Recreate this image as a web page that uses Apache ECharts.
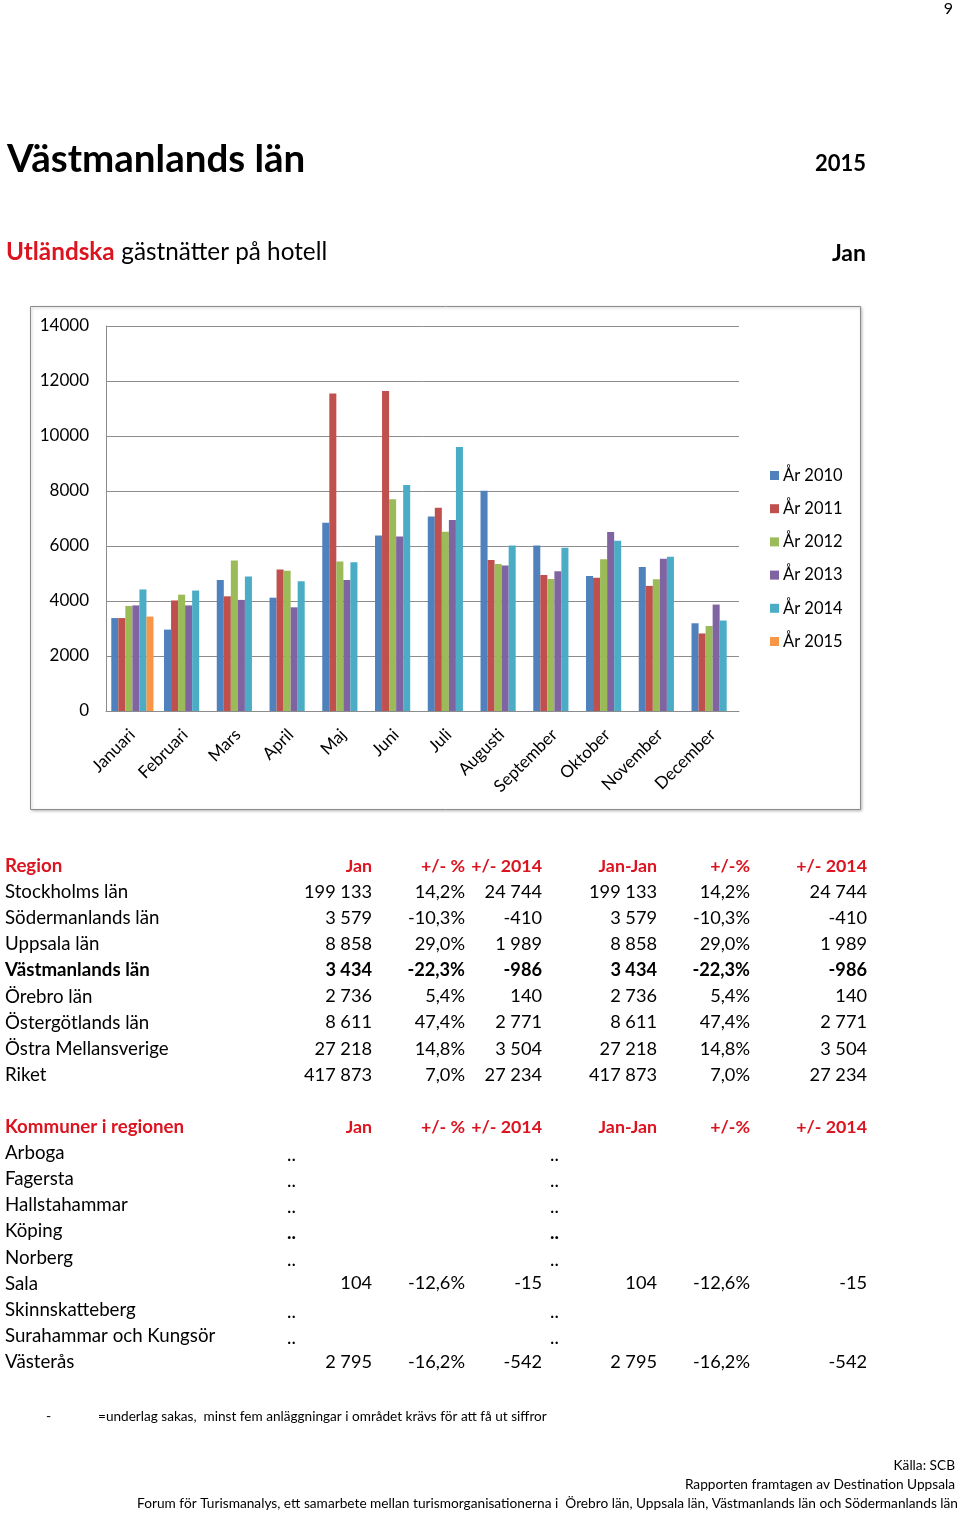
<!DOCTYPE html>
<html><head><meta charset="utf-8">
<script src="https://cdn.jsdelivr.net/npm/echarts@6/dist/echarts.min.js"></script>
<style>html,body{margin:0;padding:0;background:#fff}#c{width:960px;height:1515px}</style>
</head><body><div id="c"></div>
<script>
var months = ['Januari','Februari','Mars','April','Maj','Juni','Juli','Augusti','September','Oktober','November','December'];
var y2010 = [3380, 2960, 4760, 4120, 6850, 6380, 7070, 8010, 6020, 4910, 5240, 3190];
var y2011 = [3380, 4020, 4170, 5150, 11550, 11640, 7390, 5490, 4950, 4850, 4550, 2820];
var y2012 = [3820, 4230, 5470, 5100, 5440, 7700, 6520, 5350, 4800, 5520, 4790, 3090];
var y2013 = [3840, 3840, 4040, 3770, 4760, 6350, 6950, 5290, 5080, 6510, 5540, 3870];
var y2014 = [4420, 4380, 4890, 4720, 5410, 8220, 9600, 6020, 5940, 6190, 5610, 3290];
var y2015 = [3434, null, null, null, null, null, null, null, null, null, null, null];
var seriesNames = ['År 2010','År 2011','År 2012','År 2013','År 2014','År 2015'];
var yTicks = [0, 2000, 4000, 6000, 8000, 10000, 12000, 14000];

var regionHeader = ['Region','Jan','+/- %','+/- 2014','Jan-Jan','+/-%','+/- 2014'];
var regionNames = ['Stockholms län','Södermanlands län','Uppsala län','Västmanlands län','Örebro län','Östergötlands län','Östra Mellansverige','Riket'];
var regionJan = ['199 133','3 579','8 858','3 434','2 736','8 611','27 218','417 873'];
var regionPct = ['14,2%','-10,3%','29,0%','-22,3%','5,4%','47,4%','14,8%','7,0%'];
var regionDiff = ['24 744','-410','1 989','-986','140','2 771','3 504','27 234'];
var regionAcc = ['199 133','3 579','8 858','3 434','2 736','8 611','27 218','417 873'];
var regionAccPct = ['14,2%','-10,3%','29,0%','-22,3%','5,4%','47,4%','14,8%','7,0%'];
var regionAccDiff = ['24 744','-410','1 989','-986','140','2 771','3 504','27 234'];

var kommunHeader = ['Kommuner i regionen','Jan','+/- %','+/- 2014','Jan-Jan','+/-%','+/- 2014'];
var kommunNames = ['Arboga','Fagersta','Hallstahammar','Köping','Norberg','Sala','Skinnskatteberg','Surahammar och Kungsör','Västerås'];
var kommunJan = ['..','..','..','..','..','104','..','..','2 795'];
var kommunPct = ['','','','','','-12,6%','','','-16,2%'];
var kommunDiff = ['','','','','','-15','','','-542'];
var kommunAcc = ['..','..','..','..','..','104','..','..','2 795'];
var kommunAccPct = ['','','','','','-12,6%','','','-16,2%'];
var kommunAccDiff = ['','','','','','-15','','','-542'];

var FONT = 'Lato, "Open Sans", sans-serif';
var RED = '#DC1420';
var colors = ['#4F81BD','#C0504D','#9BBB59','#8064A2','#4BACC6','#F79646'];

var g = [];
function txt(t, x, y, opt) {
  opt = opt || {};
  g.push({type:'text', silent:true, z:10, style:{
    text:t, x:x, y:y, textAlign:opt.align||'left', textVerticalAlign:'middle',
    fontFamily:FONT, fontSize:opt.size||18.7, fontWeight:opt.weight||'normal', fill:opt.color||'#000'
  }});
}
txt('9', 953, 9, {size:16, align:'right'});
txt('Västmanlands län', 7, 160, {size:38.5, weight:'bold'});
txt('2015', 866, 164, {size:22, weight:'bold', align:'right'});
g.push({type:'text', silent:true, style:{
  text:'{r|Utländska}  {n|gästnätter på hotell}', x:6, y:252, textVerticalAlign:'middle',
  rich:{r:{fontFamily:FONT,fontSize:24.3,fontWeight:'bold',fill:RED,color:RED},
        n:{fontFamily:FONT,fontSize:24.3,fill:'#000',color:'#000'}}
}});
txt('Jan', 866, 254, {size:23, weight:'bold', align:'right'});
g.push({type:'rect', silent:true, z:0, shape:{x:30.5,y:306.5,width:830,height:503},
  style:{fill:'#fff', stroke:'#8c8c8c', lineWidth:1, shadowBlur:3, shadowColor:'rgba(0,0,0,0.25)', shadowOffsetX:1, shadowOffsetY:1}});

var colX = [5, 372, 465, 542, 657, 750, 867];
function table(header, names, cols, y0, dy, boldRow) {
  header.forEach(function(h,i){
    txt(h, colX[i], y0, {weight:'bold', color:RED, align:i===0?'left':'right', size:i===0?18.7:17.8});
  });
  names.forEach(function(n,r){
    var y = y0 + dy*(r+1);
    var w = (r===boldRow)?'bold':'normal';
    txt(n, colX[0], y, {weight:w});
    cols.forEach(function(col,ci){
      var v = col[r];
      if (!v) return;
      if (v === '..') {
        var dx = ci===0 ? 287 : 550;
        txt(v, dx, y+2, {weight:(names[r]==='Köping')?'bold':'normal'});
      } else {
        txt(v, colX[ci+1], y, {weight:w, align:'right', size:18.2});
      }
    });
  });
}
table(regionHeader, regionNames, [regionJan, regionPct, regionDiff, regionAcc, regionAccPct, regionAccDiff], 866, 26.1, 3);
table(kommunHeader, kommunNames, [kommunJan, kommunPct, kommunDiff, kommunAcc, kommunAccPct, kommunAccDiff], 1127, 26.1, -1);

txt('-', 46, 1416, {size:14});
txt('=underlag sakas,  minst fem anläggningar i området krävs för att få ut siffror', 98, 1417, {size:13.6});
txt('Källa: SCB', 955, 1466, {size:13.7, align:'right'});
txt('Rapporten framtagen av Destination Uppsala', 955, 1485, {size:13.7, align:'right'});
txt('Forum för Turismanalys, ett samarbete mellan turismorganisationerna i  Örebro län, Uppsala län, Västmanlands län och Södermanlands län', 958, 1504, {size:13.7, align:'right'});

var allData = [y2010, y2011, y2012, y2013, y2014, y2015];
var series = allData.map(function(d,i){
  return {name:seriesNames[i], type:'bar', data:d, barGap:'0%', barCategoryGap:'20%',
    itemStyle:{color:colors[i]}, z:5};
});

var chart = echarts.init(document.getElementById('c'), null, {renderer:'canvas'});
chart.setOption({
  animation:false,
  backgroundColor:'#fff',
  textStyle:{fontFamily:FONT},
  grid:{left:106, top:326, width:633, height:385, containLabel:false},
  legend:{orient:'vertical', left:765, top:462, itemWidth:9, itemHeight:9, itemGap:16.2, icon:'rect',
    data:seriesNames, textStyle:{fontFamily:FONT, fontSize:16.5, color:'#000', padding:[0,0,0,-1]}},
  xAxis:{type:'category', data:months,
    axisLine:{lineStyle:{color:'#8c8c8c'}}, axisTick:{show:false},
    axisLabel:{rotate:45, fontFamily:FONT, fontSize:17, color:'#000', margin:21, interval:0}},
  yAxis:{type:'value', min:yTicks[0], max:yTicks[yTicks.length-1], interval:2000,
    axisLine:{show:true, lineStyle:{color:'#8c8c8c'}}, axisTick:{show:false},
    splitLine:{lineStyle:{color:'#8c8c8c'}},
    axisLabel:{fontFamily:FONT, fontSize:17, color:'#000', margin:17, formatter:function(v){return String(v);}}},
  series:series,
  graphic:{elements:g}
});
</script></body></html>
